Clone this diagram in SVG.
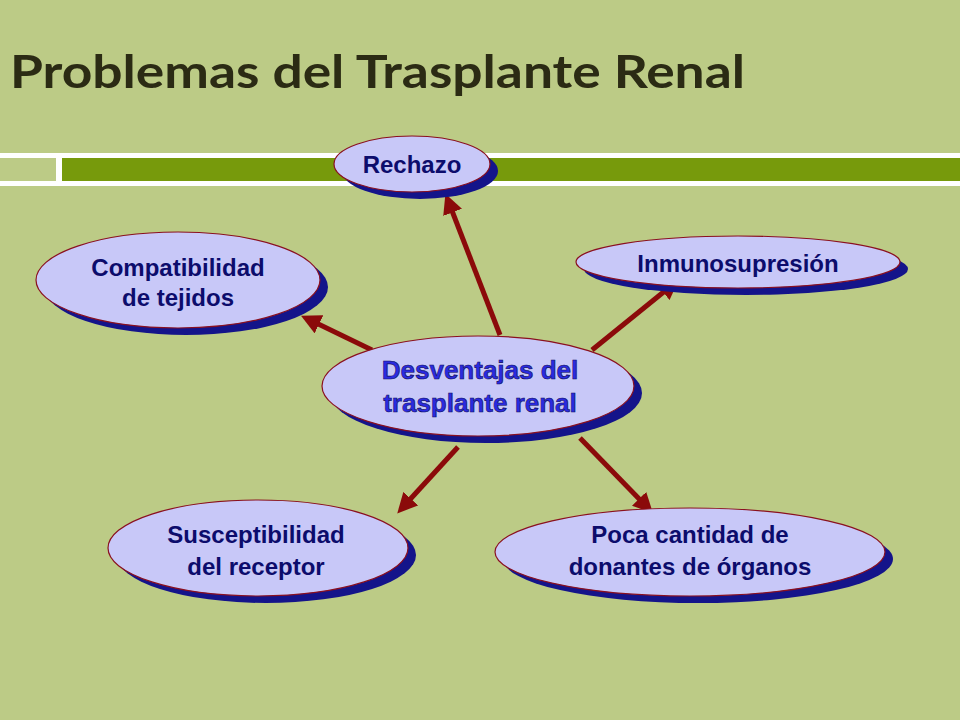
<svg xmlns="http://www.w3.org/2000/svg" width="960" height="720" viewBox="0 0 960 720">
<defs>
<style>
.sh{fill:#14148a}
.el{fill:#c8c8f8;stroke:#8a1020;stroke-width:1.2}
.t{font-family:"Liberation Sans",Arial,sans-serif;font-weight:bold;font-size:24px;fill:#0c0c6c;text-anchor:middle}
.tc{font-family:"Liberation Sans",Arial,sans-serif;font-weight:bold;font-size:26px;fill:#2a2ae0;text-anchor:middle;stroke:#10105a;stroke-width:0.6}
.c{stroke:#8b0a0a;stroke-width:5;fill:none;marker-end:url(#ah)}
</style>
<marker id="ah" viewBox="0 0 10 10" refX="5" refY="5" markerWidth="4" markerHeight="4" orient="auto"><path d="M0,0L10,5L0,10z" fill="#8b0a0a"/></marker>
</defs>
<rect width="960" height="720" fill="#bccb86"/>
<text x="10" y="88" font-family="Lato,'Open Sans',sans-serif" font-weight="bold" font-size="46" fill="#2b2b14" textLength="735" lengthAdjust="spacingAndGlyphs">Problemas del Trasplante Renal</text>
<rect x="0" y="153" width="960" height="5" fill="#fff"/>
<rect x="0" y="181" width="960" height="5" fill="#fff"/>
<rect x="56" y="158" width="6" height="23" fill="#fff"/>
<rect x="62" y="158" width="898" height="23" fill="#779a0c"/>
<g id="connectors">
<line class="c" x1="500" y1="335" x2="449" y2="203"/>
<line class="c" x1="372" y1="350" x2="310" y2="320"/>
<line class="c" x1="592" y1="350" x2="671" y2="286"/>
<line class="c" x1="458" y1="447" x2="404" y2="506"/>
<line class="c" x1="580" y1="438" x2="646" y2="506"/>
</g>
<g id="n-rechazo"><ellipse class="sh" cx="420" cy="171" rx="78" ry="28"/><ellipse class="el" cx="412" cy="164" rx="78" ry="28"/><text class="t" x="412" y="173">Rechazo</text></g>
<g id="n-compat"><ellipse class="sh" cx="186" cy="287" rx="142" ry="48"/><ellipse class="el" cx="178" cy="280" rx="142" ry="48"/><text class="t" x="178" y="276">Compatibilidad</text><text class="t" x="178" y="306">de tejidos</text></g>
<g id="n-inmuno"><ellipse class="sh" cx="746" cy="269" rx="162" ry="26"/><ellipse class="el" cx="738" cy="262" rx="162" ry="26"/><text class="t" x="738" y="272">Inmunosupresión</text></g>
<g id="n-center"><ellipse class="sh" cx="486" cy="393" rx="156" ry="50"/><ellipse class="el" cx="478" cy="386" rx="156" ry="50"/><text class="tc" x="480" y="379">Desventajas del</text><text class="tc" x="480" y="412">trasplante renal</text></g>
<g id="n-suscept"><ellipse class="sh" cx="266" cy="555" rx="150" ry="48"/><ellipse class="el" cx="258" cy="548" rx="150" ry="48"/><text class="t" x="256" y="543">Susceptibilidad</text><text class="t" x="256" y="575">del receptor</text></g>
<g id="n-poca"><ellipse class="sh" cx="698" cy="559" rx="195" ry="44"/><ellipse class="el" cx="690" cy="552" rx="195" ry="44"/><text class="t" x="690" y="543">Poca cantidad de</text><text class="t" x="690" y="575">donantes de órganos</text></g>
</svg>
